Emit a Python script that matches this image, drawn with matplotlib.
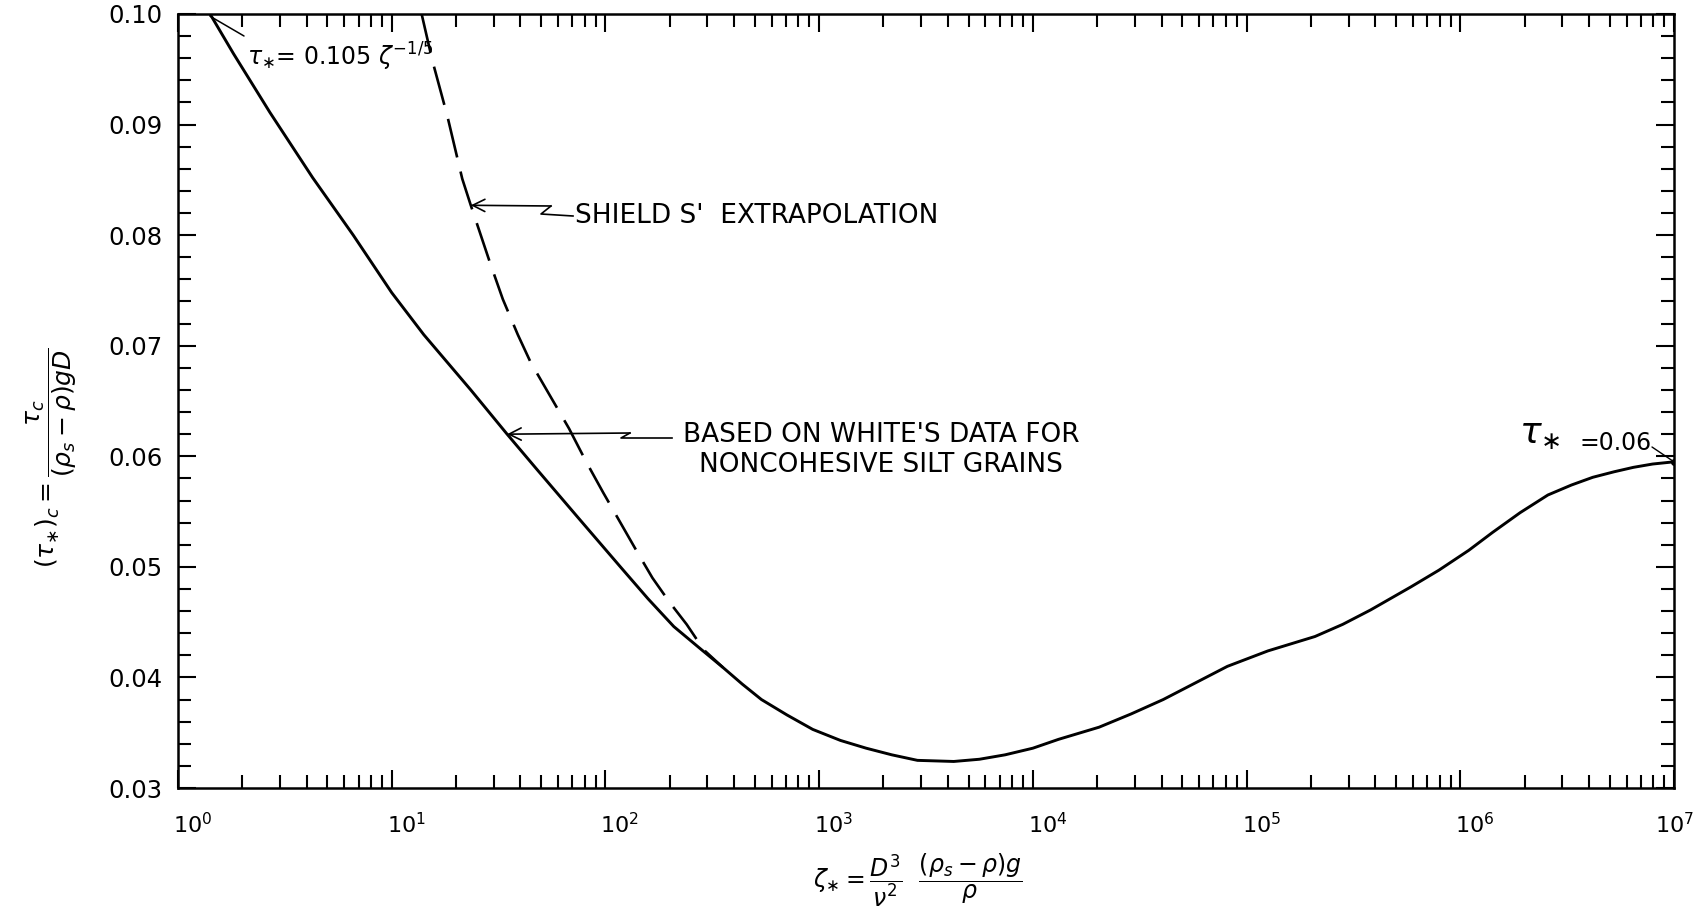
import matplotlib
matplotlib.use("Agg")
import matplotlib.pyplot as plt
import numpy as np
from matplotlib.ticker import LogLocator, MultipleLocator, NullFormatter
from matplotlib.lines import Line2D
import matplotlib.transforms as mtransforms

# White's curve (log10 of zeta, critical tau)
log_zeta_white = [0.15, 0.26, 0.43, 0.63, 0.82, 1.00, 1.15, 1.37, 1.54,
                  1.68, 1.87, 2.07, 2.20, 2.32, 2.45, 2.55, 2.64, 2.73, 2.85,
                  2.97, 3.10, 3.22, 3.34, 3.46, 3.63, 3.75, 3.87, 4.00, 4.12,
                  4.31, 4.46, 4.61, 4.76, 4.91, 5.10, 5.32, 5.45, 5.58, 5.77,
                  5.90, 6.04, 6.15, 6.28, 6.41, 6.52, 6.62, 6.72, 6.81, 6.90, 7.00]
tau_white = [0.1000, 0.0964, 0.0911, 0.0852, 0.0800, 0.0748, 0.0710, 0.0660, 0.0620,
             0.0588, 0.0545, 0.0500, 0.0471, 0.0446, 0.0425, 0.0409, 0.0394, 0.0380, 0.0366,
             0.0353, 0.0343, 0.0336, 0.0330, 0.0325, 0.0324, 0.0326, 0.0330, 0.0336, 0.0344,
             0.0355, 0.0367, 0.0380, 0.0395, 0.0410, 0.0424, 0.0437, 0.0448, 0.0461, 0.0482,
             0.0497, 0.0515, 0.0531, 0.0549, 0.0565, 0.0574, 0.0581, 0.0586, 0.0590, 0.0593, 0.0595]

# Shields' extrapolation (dashed)
log_zeta_shields = [1.14, 1.19, 1.26, 1.33, 1.37, 1.46, 1.52, 1.59, 1.65, 1.74,
                    1.83, 1.91, 1.99, 2.07, 2.15, 2.22, 2.30, 2.38, 2.46, 2.55]
tau_shields = [0.1000, 0.0958, 0.0908, 0.0851, 0.0827, 0.0775, 0.0742, 0.0710, 0.0685, 0.0655,
               0.0625, 0.0595, 0.0567, 0.0540, 0.0513, 0.0490, 0.0468, 0.0448, 0.0425, 0.0409]

x_decades = [0, 1, 2, 3, 4, 5, 6, 7]
y_ticks = [0.03, 0.04, 0.05, 0.06, 0.07, 0.08, 0.09, 0.10]
y_ticklabels = ["0.03", "0.04", "0.05", "0.06", "0.07", "0.08", "0.09", "0.10"]

W, H = 1702, 914
plt.rcParams["font.family"] = ["DejaVu Sans"]

fig = plt.figure(figsize=(W / 100, H / 100), dpi=100)
ax = fig.add_axes([178 / W, 1 - 788 / H, (1674 - 178) / W, (788 - 14) / H])


def fpx(x, y):
    # figure pixel (from top-left) -> figure fraction
    return (x / W, 1 - y / H)


zw = 10 ** np.array(log_zeta_white)
zs = 10 ** np.array(log_zeta_shields)

ax.plot(zw, tau_white, color="black", lw=2.1, solid_capstyle="round", solid_joinstyle="round")
ax.plot(zs, tau_shields, color="black", lw=1.9, dashes=(15, 5.5))
ax.plot([zw[-1]], [tau_white[-1]], "o", color="black", ms=4)

ax.set_xscale("log")
ax.set_xlim(1, 1e7)
ax.set_ylim(0.03, 0.10)

ax.set_xticks([10.0 ** k for k in x_decades])
ax.set_xticklabels([r"$10^{%d}$" % k for k in x_decades])
ax.xaxis.set_minor_locator(LogLocator(base=10, subs=np.arange(2, 10), numticks=100))
ax.xaxis.set_minor_formatter(NullFormatter())
ax.set_yticks(y_ticks)
ax.set_yticklabels(y_ticklabels)
ax.yaxis.set_minor_locator(MultipleLocator(0.002))

ax.tick_params(which="both", direction="in", top=True, right=True, width=1.5)
ax.tick_params(which="major", length=13)
ax.tick_params(which="minor", length=9.5)
ax.tick_params(axis="x", which="major", pad=17, labelsize=16)
ax.tick_params(axis="y", which="major", pad=11, labelsize=17.5)
for sp in ax.spines.values():
    sp.set_linewidth(1.8)

xlabels = ax.get_xticklabels()
for i, lbl in enumerate(xlabels):
    dx = -0.19 if i == len(xlabels) - 1 else -0.05
    lbl.set_horizontalalignment("left")
    lbl.set_transform(lbl.get_transform() + mtransforms.ScaledTranslation(dx, 0, fig.dpi_scale_trans))

# axis labels
fig.text(*fpx(918, 880), r"$\zeta_{\ast} = \dfrac{D^3}{\nu^2}\ \ \dfrac{(\rho_s-\rho)g}{\rho}$",
         fontsize=17, ha="center", va="center")
fig.text(*fpx(52, 458), r"$(\tau_{\ast})_c = \dfrac{\tau_c}{(\rho_s-\rho)gD}$",
         fontsize=18, ha="center", va="center", rotation=90)

# formula near top left
fig.text(*fpx(247, 66), r"$\tau_{\ast}$= 0.105 $\zeta^{-1/5}$", fontsize=17,
         ha="left", va="baseline")
ax.annotate("", xy=(zw[0], tau_white[0] - 0.0002), xycoords="data",
            xytext=fpx(244, 36), textcoords="figure fraction",
            arrowprops=dict(arrowstyle="-", lw=1.1, color="black", shrinkA=0, shrinkB=0))

# Shields' extrapolation label
fig.text(*fpx(575, 216), "SHIELD S'  EXTRAPOLATION", fontsize=19, ha="left", va="center")
ax.annotate("", xy=(zs[4], tau_shields[4]), xycoords="data",
            xytext=fpx(551, 206), textcoords="figure fraction",
            arrowprops=dict(arrowstyle="->", lw=1.2, color="black", mutation_scale=22,
                            shrinkA=0, shrinkB=0))
zz = [fpx(551, 206), fpx(541, 214), fpx(573, 216)]
fig.add_artist(Line2D([p[0] for p in zz], [p[1] for p in zz], lw=1.2, color="black",
                      transform=fig.transFigure))

# White's data label
fig.text(*fpx(881, 450), "BASED ON WHITE'S DATA FOR\nNONCOHESIVE SILT GRAINS",
         fontsize=19, ha="center", va="center", linespacing=1.15)
ax.annotate("", xy=(zw[8], tau_white[8]), xycoords="data",
            xytext=fpx(630, 433), textcoords="figure fraction",
            arrowprops=dict(arrowstyle="->", lw=1.2, color="black", mutation_scale=22,
                            shrinkA=0, shrinkB=0))
zz = [fpx(630, 433), fpx(621, 438), fpx(672, 438)]
fig.add_artist(Line2D([p[0] for p in zz], [p[1] for p in zz], lw=1.2, color="black",
                      transform=fig.transFigure))

# tau* = 0.06 at right
fig.text(*fpx(1519, 443), r"$\tau_{\ast}$", fontsize=26, ha="left", va="baseline")
fig.text(*fpx(1580, 450), "=0.06", fontsize=17, ha="left", va="baseline")
ax.annotate("", xy=(zw[-1], tau_white[-1]), xycoords="data",
            xytext=fpx(1652, 447), textcoords="figure fraction",
            arrowprops=dict(arrowstyle="-", lw=1.0, color="black", shrinkA=0, shrinkB=0))

fig.savefig("out.png", dpi=100, facecolor="white")
